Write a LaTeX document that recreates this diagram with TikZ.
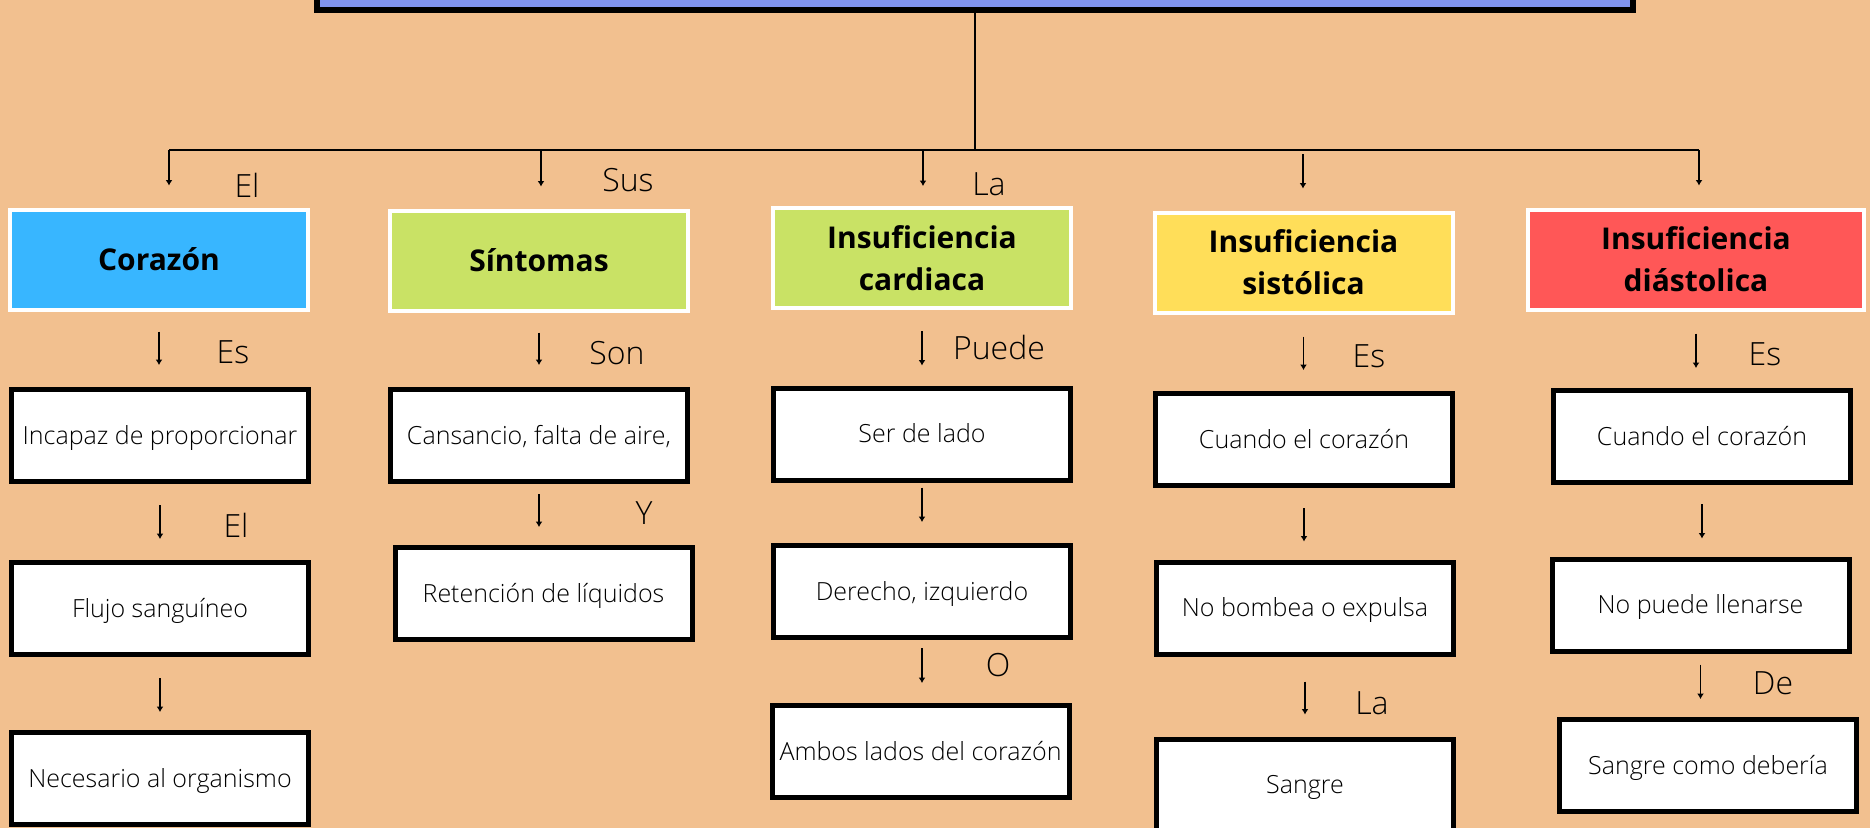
\documentclass[tikz,border=0pt]{standalone}
\usepackage{fontspec}
\IfFontExistsTF{Open Sans Light}
  {\setmainfont{Open Sans Light}[BoldFont={Open Sans Bold}]}
  {\setmainfont{Open Sans}}
\usepackage{tikz}
\usetikzlibrary{arrows.meta}
\definecolor{fondo}{HTML}{F2C08F}
\definecolor{lila}{HTML}{8094F0}
\definecolor{celeste}{HTML}{38B6FF}
\definecolor{verde}{HTML}{C9E265}
\definecolor{amarillo}{HTML}{FFDE59}
\definecolor{rojo}{HTML}{FF5757}
\newcommand{\cajaw}{297bp}
\newcommand{\cajah}{92bp}
\newcommand{\textsz}{\fontsize{25bp}{30bp}\selectfont}
\newcommand{\etiqsz}{\fontsize{32bp}{38bp}\selectfont}
\newcommand{\titsz}{\fontsize{30bp}{42bp}\selectfont\bfseries}
\tikzset{
  caja/.style={draw=black, line width=5bp, fill=white, minimum width=\cajaw,
    minimum height=\cajah, inner sep=0pt, text height=17.8bp, text depth=0bp,
    font=\textsz},
  tema/.style={draw=white, line width=4bp, fill=#1, minimum width=298bp,
    minimum height=100bp, inner sep=0pt, align=center, font=\titsz},
  etiq/.style={inner sep=0pt, font=\etiqsz},
  flecha/.style={line width=1.5bp, -{Latex[length=5.5bp,width=7bp]}},
  rama/.style={line width=1.8bp},
}

\begin{document}
\begin{tikzpicture}[x=1bp,y=-1bp]
  \useasboundingbox (0,0) rectangle (1870,828);
  \fill[fondo] (0,0) rectangle (1870,828);
  %\draw[help lines,step=100] (0,0) grid (1870,828);

  \node[draw=black, line width=6bp, fill=lila, minimum width=1316bp,
    minimum height=60bp] (titulo) at (975,-20) {};

  % temas
  \node[tema=celeste] (hCor) at (159,259.5) {Corazón};
  \node[tema=verde] (hSin) at (539,260.5) {Síntomas};
  \node[tema=verde] (hCar) at (922,258) {Insuficiencia\\cardiaca};
  \node[tema=amarillo] (hSis) at (1303.5,262.5) {Insuficiencia\\sistólica};
  \node[tema=rojo, minimum width=336bp] (hDia) at (1696,259.5) {Insuficiencia\\diástolica};

  % cajas
  \node[caja] (bInc) at (160,435.5) {Incapaz de proporcionar};
  \node[caja] (bFlu) at (160,608.5) {Flujo sanguíneo};
  \node[caja] (bNec) at (160,778.5) {Necesario al organismo};
  \node[caja] (bCan) at (539,435.5) {Cansancio, falta de aire,};
  \node[caja] (bRet) at (543.5,593.5) {Retención de líquidos};
  \node[caja] (bSer) at (922,434) {Ser de lado};
  \node[caja] (bDer) at (922,591.5) {Derecho, izquierdo};
  \node[caja] (bAmb) at (920.5,751.5) {Ambos lados del corazón};
  \node[caja] (bCua1) at (1304,439.5) {Cuando el corazón};
  \node[caja] (bNob) at (1305,608) {No bombea o expulsa};
  \node[caja] (bSan) at (1305,785) {Sangre};
  \node[caja] (bCua2) at (1702,436.5) {Cuando el corazón};
  \node[caja] (bNop) at (1700.5,605) {No puede llenarse};
  \node[caja] (bSgr) at (1708,765.5) {Sangre como debería};

  % ramas
  \coordinate (b1) at (169,150);
  \coordinate (b2) at (541,150);
  \coordinate (b3) at (923,150);
  \coordinate (b4) at (1303,150);
  \coordinate (b5) at (1699,150);
  \draw[rama] (titulo.south) -- (titulo.south |- b1);
  \draw[rama] (b1) -- (b5);
  \draw[flecha, shorten >=22bp] (b1) -- (b1 |- hCor.north);
  \draw[flecha, shorten >=22bp] (b2) -- (b2 |- hSin.north);
  \draw[flecha, shorten >=20bp] (b3) -- (b3 |- hCar.north);
  \draw[flecha, shorten <=4bp, shorten >=22bp] (b4) -- (b4 |- hSis.north);
  \draw[flecha, shorten >=22bp] (b5) -- (b5 |- hDia.north);

  \draw[flecha, shorten <=20bp, shorten >=22bp] (hCor.south) -- (hCor.south |- bInc.north);
  \draw[flecha, shorten <=20bp, shorten >=22bp] (hSin.south) -- (hSin.south |- bCan.north);
  \draw[flecha, shorten <=21bp, shorten >=20bp] (hCar.south) -- (hCar.south |- bSer.north);
  \draw[flecha, shorten <=22bp, shorten >=21bp] (hSis.south) -- (hSis.south |- bCua1.north);
  \draw[flecha, shorten <=22bp, shorten >=20bp] (hDia.south) -- (hDia.south |- bCua2.north);

  \draw[flecha, shorten <=21bp, shorten >=21bp] (bInc.south) -- (bInc.south |- bFlu.north);
  \draw[flecha, shorten <=21bp, shorten >=18bp] (bFlu.south) -- (bFlu.south |- bNec.north);
  \draw[flecha, shorten <=10bp, shorten >=18bp] (bCan.south) -- (bCan.south |- bRet.north);
  \draw[flecha, shorten <=5bp, shorten >=21bp] (bSer.south) -- (bSer.south |- bDer.north);
  \draw[flecha, shorten <=8bp, shorten >=20bp] (bDer.south) -- (bDer.south |- bAmb.north);
  \draw[flecha, shorten <=20bp, shorten >=18bp] (bCua1.south) -- (bCua1.south |- bNob.north);
  \draw[flecha, shorten <=25bp, shorten >=22bp] (bNob.south) -- (bNob.south |- bSan.north);
  \draw[flecha, shorten <=19bp, shorten >=18bp] (bCua2.south) -- (bCua2.south |- bNop.north);
  \draw[flecha, shorten <=11bp, shorten >=18bp] (bNop.south) -- (bNop.south |- bSgr.north);

  % etiquetas
  \node[etiq] (lEl) at (247,185) {El};
  \node[etiq] (lSus) at (628,180) {Sus};
  \node[etiq] (lLa) at (989,184) {La};
  \node[etiq] (lEs1) at (233,352) {Es};
  \node[etiq] (lSon) at (617,353) {Son};
  \node[etiq] (lPuede) at (999,347) {Puede};
  \node[etiq] (lEs2) at (1369,356) {Es};
  \node[etiq] (lEs3) at (1765,354) {Es};
  \node[etiq] (lEl2) at (236,525) {El};
  \node[etiq] (lY) at (644,513) {Y};
  \node[etiq] (lO) at (998,665) {O};
  \node[etiq] (lLa2) at (1372,703) {La};
  \node[etiq] (lDe) at (1773,683) {De};
\end{tikzpicture}
\end{document}
